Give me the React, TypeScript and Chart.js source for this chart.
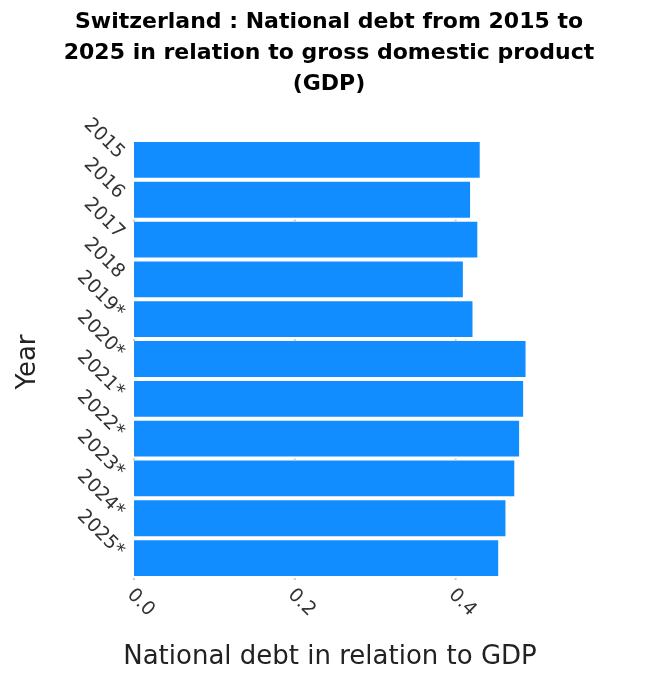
import React, { useEffect, useRef } from "react";
import { Chart, registerables } from "chart.js";
Chart.register(...registerables);

const years = ["2015", "2016", "2017", "2018", "2019*", "2020*", "2021*", "2022*", "2023*", "2024*", "2025*"];
const debt = [0.43, 0.418, 0.427, 0.409, 0.421, 0.487, 0.484, 0.479, 0.473, 0.462, 0.453];
const xTicks = [0, 0.2, 0.4];
const titleLines = ["Switzerland : National debt from 2015 to", "2025 in relation to gross domestic product", "(GDP)"];

export default function App() {
  const ref = useRef<HTMLCanvasElement>(null);
  useEffect(() => {
    document.body.style.margin = "0";
    const overlay = {
      id: "overlay",
      afterDraw(c: any) {
        const ctx = c.ctx;
        const x = c.scales.x, y = c.scales.y;
        const a = c.chartArea;
        ctx.save();
        ctx.fillStyle = "#cccccc";
        xTicks.forEach((t) => {
          const px = x.getPixelForValue(t);
          for (let k = 0; k <= 11; k++) {
            const py = a.top + (k * (a.bottom - a.top)) / 11;
            if (k % 3 === 2 || k === 11) ctx.fillRect(px - 1, py, 2, 2);
          }
        });
        ctx.fillStyle = "#000";
        ctx.font = "bold 22px 'DejaVu Sans', sans-serif";
        ctx.textAlign = "center";
        ctx.textBaseline = "middle";
        titleLines.forEach((l, i) => ctx.fillText(l, 329, 22 + i * 31));
        ctx.fillStyle = "#333";
        ctx.font = "19px 'DejaVu Sans', sans-serif";
        years.forEach((yr, i) => {
          const py = y.getPixelForValue(i);
          ctx.save();
          ctx.translate(a.left - 13, py - 4);
          ctx.rotate(Math.PI / 4);
          ctx.textAlign = "right";
          ctx.textBaseline = "middle";
          ctx.fillText(yr, 0, 0);
          ctx.restore();
        });
        xTicks.forEach((t) => {
          const px = x.getPixelForValue(t);
          ctx.save();
          ctx.translate(px - 4, a.bottom + 14);
          ctx.rotate(Math.PI / 4);
          ctx.textAlign = "left";
          ctx.textBaseline = "middle";
          ctx.fillText(t.toFixed(1), 0, 0);
          ctx.restore();
        });
        ctx.fillStyle = "#222";
        ctx.font = "26px 'DejaVu Sans', sans-serif";
        ctx.textAlign = "center";
        ctx.textBaseline = "middle";
        ctx.fillText("National debt in relation to GDP", 330, 657);
        ctx.save();
        ctx.translate(28, 362);
        ctx.rotate(-Math.PI / 2);
        ctx.fillText("Year", 0, 0);
        ctx.restore();
        ctx.restore();
      },
    };
    const chart = new Chart(ref.current!, {
      type: "bar",
      data: {
        labels: years,
        datasets: [{ data: debt, backgroundColor: "#118DFF", barPercentage: 0.9, categoryPercentage: 1 }],
      },
      options: {
        indexAxis: "y",
        animation: false,
        responsive: false,
        layout: { padding: { left: 134, right: 122, top: 140, bottom: 104 } },
        plugins: { legend: { display: false }, tooltip: { enabled: false } },
        scales: {
          x: { display: false, min: 0, max: 0.5 },
          y: { display: false },
        },
      },
      plugins: [overlay],
    });
    return () => chart.destroy();
  }, []);
  return <canvas ref={ref} width={658} height={682} style={{ display: "block" }} />;
}
